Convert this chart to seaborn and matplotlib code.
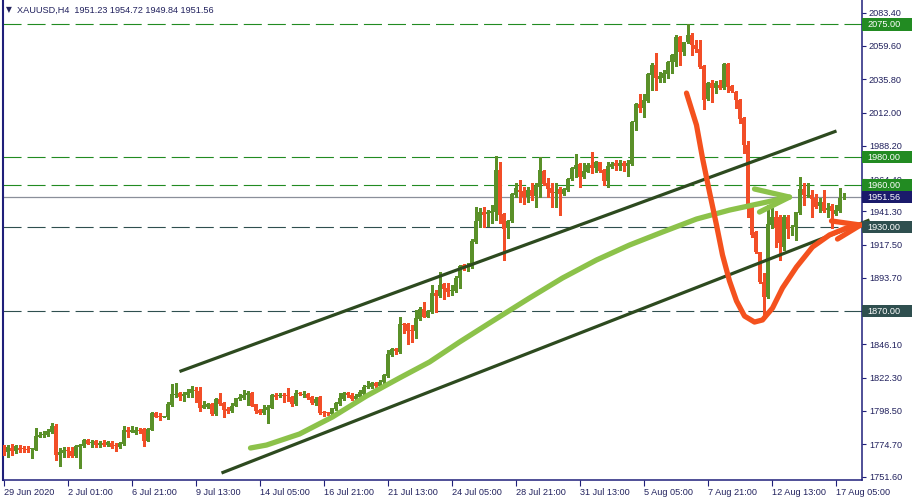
import numpy as np
import pandas as pd
import matplotlib
matplotlib.use("Agg")
import matplotlib.pyplot as plt
import matplotlib.transforms as mtrans
from matplotlib.patches import Rectangle
import seaborn as sns

# ---------------- data (XAUUSD H4) ----------------
opens = [
    1773.4, 1769.4, 1772.0, 1770.1, 1772.0, 1771.5, 1771.3, 1771.3, 1770.6, 1780.1,
    1781.1, 1781.3, 1783.5, 1787.8, 1767.0, 1768.7, 1770.6, 1770.1, 1766.3, 1773.0,
    1773.4, 1777.7, 1775.4, 1776.8, 1774.4, 1775.6, 1773.9, 1775.6, 1773.9, 1772.5,
    1774.9, 1784.9, 1783.7, 1782.5, 1784.9, 1785.4, 1777.3, 1785.1, 1797.3, 1794.9,
    1794.4, 1794.4, 1802.8, 1810.2, 1811.1, 1809.2, 1809.7, 1811.6, 1813.5, 1812.8,
    1800.9, 1801.6, 1803.5, 1796.3, 1806.8, 1804.0, 1800.1, 1798.7, 1802.3, 1807.3,
    1808.0, 1809.7, 1811.6, 1803.2, 1799.2, 1797.3, 1799.2, 1800.9, 1810.2, 1809.4,
    1810.2, 1809.7,
    1808.7, 1803.5, 1811.6, 1810.2, 1810.6, 1808.7, 1804.4, 1808.7, 1797.8, 1797.3,
    1796.3, 1799.9, 1803.5, 1807.1, 1811.6, 1810.2, 1807.1, 1808.7, 1810.6, 1815.4,
    1815.9, 1818.5, 1816.6, 1819.0, 1823.8, 1838.5, 1843.1, 1840.9, 1860.7, 1860.7,
    1856.4, 1855.9, 1864.3, 1871.2, 1866.0, 1869.1, 1883.1, 1881.0, 1889.1, 1886.7,
    1884.3, 1884.5, 1893.4, 1902.9, 1901.2,
    1901.7, 1919.6, 1934.4, 1941.1, 1939.4, 1939.9, 1941.1, 1970.9, 1939.4, 1929.1,
    1934.4, 1953.0, 1956.6, 1956.1, 1951.8, 1956.6, 1952.3, 1958.9, 1970.2, 1961.3,
    1958.2, 1954.2, 1957.3, 1953.5, 1956.6, 1964.2, 1971.6, 1975.2, 1966.1, 1969.7,
    1974.4, 1972.1, 1976.4, 1970.9, 1963.2, 1973.3, 1975.6, 1974.0, 1975.6, 1974.0,
    1975.2, 2005.0, 2018.1, 2015.5, 2020.5, 2038.8, 2046.0, 2036.0, 2036.4, 2039.3,
    2047.9, 2047.9, 2066.2, 2055.5, 2062.2, 2067.4, 2060.3, 2057.2, 2045.3, 2021.4,
    2032.9, 2029.8, 2031.7, 2029.3, 2046.7, 2031.2, 2026.9, 2020.9, 2007.8, 1988.8,
    1943.5, 1926.8, 1912.0, 1891.0, 1880.3, 1931.5, 1937.5, 1937.5, 1916.0, 1937.5,
    1929.2, 1929.9, 1939.9, 1957.3, 1952.3, 1953.0, 1951.1, 1945.1, 1947.8, 1942.3,
    1945.4, 1939.2, 1941.8, 1951.23,
]
highs = [
    1774.2, 1774.2, 1774.9, 1773.9, 1774.2, 1773.4, 1773.4, 1771.8, 1786.1, 1783.7,
    1784.4, 1785.6, 1790.1, 1789.2, 1771.8, 1772.5, 1772.5, 1772.5, 1774.2, 1774.9,
    1778.5, 1778.2, 1777.7, 1777.7, 1777.3, 1777.7, 1777.0, 1777.0, 1775.4, 1776.5,
    1788.0, 1787.3, 1788.0, 1787.3, 1786.1, 1786.1, 1786.1, 1798.0, 1798.0, 1796.8,
    1795.2, 1805.2, 1817.8, 1818.3, 1811.8, 1811.8, 1814.0, 1816.4, 1815.9, 1815.4,
    1805.4, 1804.4, 1804.0, 1807.5, 1811.1, 1805.2, 1801.6, 1804.0, 1808.0, 1810.6,
    1813.5, 1812.8, 1811.8, 1803.7, 1800.1, 1802.8, 1802.8, 1810.6, 1811.1, 1811.1,
    1811.1, 1814.7,
    1809.5, 1813.5, 1812.3, 1813.0, 1811.1, 1809.5, 1808.3, 1809.5, 1798.5, 1798.0,
    1800.9, 1805.2, 1811.1, 1812.3, 1812.3, 1811.1, 1810.4, 1813.5, 1817.1, 1820.2,
    1819.5, 1819.5, 1820.7, 1825.0, 1842.1, 1843.3, 1843.8, 1866.0, 1861.2, 1861.2,
    1860.0, 1870.7, 1872.6, 1876.7, 1870.7, 1888.6, 1885.0, 1898.1, 1890.3, 1889.8,
    1888.6, 1895.0, 1902.9, 1903.6, 1904.1,
    1921.3, 1944.6, 1943.5, 1944.6, 1942.3, 1945.8, 1980.9, 1976.8, 1939.9, 1935.1,
    1954.2, 1961.3, 1963.7, 1958.9, 1958.9, 1961.3, 1961.3, 1980.4, 1970.9, 1964.9,
    1961.3, 1961.3, 1958.9, 1957.8, 1964.9, 1973.3, 1982.3, 1975.6, 1975.6, 1975.6,
    1984.0, 1977.5, 1976.8, 1971.3, 1976.4, 1976.8, 1978.0, 1978.0, 1977.5, 1978.0,
    2005.9, 2019.0, 2025.2, 2025.2, 2040.0, 2047.2, 2054.3, 2041.2, 2042.4, 2048.8,
    2053.6, 2067.4, 2067.0, 2062.7, 2075.1, 2068.6, 2063.9, 2063.9, 2046.0, 2034.1,
    2035.2, 2034.8, 2035.2, 2047.6, 2047.2, 2031.7, 2027.4, 2021.7, 2009.0, 1991.6,
    1944.7, 1927.3, 1912.5, 1897.5, 1945.8, 1943.5, 1941.6, 1938.7, 1938.7, 1938.7,
    1931.5, 1941.1, 1965.6, 1961.3, 1961.3, 1956.6, 1953.5, 1950.6, 1956.6, 1947.0,
    1946.3, 1945.8, 1957.8, 1954.72,
]
lows = [
    1767.0, 1765.8, 1767.0, 1768.7, 1769.2, 1769.4, 1769.4, 1765.1, 1770.3, 1779.6,
    1780.1, 1780.6, 1783.0, 1763.4, 1759.1, 1765.8, 1765.8, 1765.8, 1765.8, 1758.0,
    1772.5, 1774.6, 1772.5, 1773.0, 1773.0, 1773.7, 1773.4, 1771.8, 1770.1, 1771.8,
    1774.4, 1779.6, 1783.2, 1782.0, 1783.0, 1773.4, 1776.8, 1784.9, 1794.0, 1792.0,
    1793.9, 1793.0, 1802.3, 1808.7, 1806.3, 1805.9, 1808.3, 1808.7, 1805.2, 1798.7,
    1800.4, 1800.4, 1795.6, 1795.6, 1802.8, 1794.4, 1797.3, 1798.0, 1802.1, 1806.3,
    1806.8, 1802.5, 1802.1, 1797.3, 1796.3, 1796.3, 1790.1, 1800.4, 1807.1, 1808.7,
    1805.2, 1805.9,
    1802.3, 1802.8, 1809.7, 1808.3, 1807.3, 1803.3, 1802.8, 1796.3, 1795.1, 1795.6,
    1795.9, 1799.2, 1802.8, 1806.4, 1808.7, 1806.4, 1806.4, 1808.0, 1809.9, 1814.7,
    1814.7, 1815.9, 1815.9, 1818.3, 1823.0, 1837.8, 1839.0, 1840.2, 1854.0, 1846.2,
    1847.6, 1850.5, 1863.6, 1865.5, 1865.5, 1868.8, 1869.5, 1880.3, 1878.4, 1880.7,
    1881.5, 1883.8, 1886.7, 1899.3, 1898.9,
    1900.5, 1918.9, 1930.3, 1929.9, 1930.8, 1932.7, 1935.1, 1932.7, 1906.5, 1922.0,
    1933.9, 1951.8, 1948.2, 1946.6, 1948.2, 1949.4, 1944.6, 1951.8, 1960.1, 1951.8,
    1944.6, 1944.6, 1938.7, 1953.0, 1956.1, 1963.7, 1966.1, 1958.9, 1964.9, 1969.2,
    1968.5, 1969.7, 1969.7, 1960.1, 1958.9, 1972.1, 1970.9, 1970.9, 1970.4, 1966.6,
    1974.5, 1999.5, 2012.6, 2009.0, 2019.8, 2028.1, 2028.1, 2034.1, 2034.1, 2036.4,
    2040.0, 2045.5, 2046.0, 2053.1, 2061.5, 2053.1, 2055.5, 2044.1, 2014.5, 2020.9,
    2019.3, 2025.7, 2028.8, 2028.6, 2026.9, 2026.9, 2015.0, 2004.3, 1982.8, 1937.5,
    1923.2, 1911.3, 1889.8, 1867.2, 1879.1, 1929.2, 1916.0, 1906.5, 1913.7, 1922.0,
    1924.4, 1920.8, 1939.4, 1945.8, 1951.8, 1937.5, 1943.9, 1941.1, 1941.1, 1937.5,
    1929.2, 1938.7, 1941.1, 1949.84,
]
closes = [
    1769.4, 1772.5, 1770.1, 1773.4, 1770.6, 1771.1, 1770.9, 1771.6, 1780.6, 1781.3,
    1782.0, 1784.4, 1788.0, 1767.0, 1769.2, 1770.6, 1770.1, 1766.5, 1773.4, 1774.2,
    1777.7, 1774.9, 1776.3, 1774.2, 1775.6, 1773.9, 1776.3, 1772.5, 1773.2, 1775.4,
    1784.9, 1783.7, 1784.9, 1784.9, 1784.4, 1777.0, 1785.6, 1797.0, 1794.4, 1794.4,
    1794.5, 1803.5, 1810.6, 1810.6, 1808.7, 1810.4, 1812.3, 1814.0, 1813.0, 1800.9,
    1802.5, 1803.5, 1796.1, 1806.8, 1803.5, 1799.2, 1798.7, 1802.3, 1807.8, 1808.7,
    1810.2, 1811.6, 1802.1, 1798.5, 1797.3, 1799.7, 1801.3, 1809.9, 1808.7, 1809.9,
    1809.2, 1809.2,
    1803.5, 1811.6, 1810.4, 1810.6, 1808.0, 1804.4, 1807.1, 1797.3, 1797.1, 1796.8,
    1800.4, 1804.0, 1807.5, 1811.6, 1809.7, 1807.1, 1809.5, 1811.8, 1815.9, 1816.6,
    1818.3, 1816.6, 1819.5, 1824.2, 1839.3, 1842.8, 1841.6, 1860.7, 1860.2, 1855.7,
    1855.9, 1864.8, 1871.2, 1866.0, 1870.0, 1882.6, 1881.0, 1888.6, 1885.7, 1883.8,
    1885.0, 1893.8, 1902.2, 1901.0, 1902.9,
    1920.3, 1934.4, 1941.1, 1938.7, 1940.6, 1941.5, 1970.9, 1938.7, 1928.9, 1934.6,
    1953.7, 1958.2, 1955.4, 1951.8, 1956.6, 1952.3, 1959.4, 1970.9, 1960.9, 1957.3,
    1954.2, 1955.4, 1953.5, 1957.0, 1964.2, 1972.1, 1974.4, 1966.1, 1970.2, 1974.4,
    1972.1, 1976.4, 1970.4, 1963.2, 1973.7, 1975.2, 1974.0, 1975.6, 1974.0, 1975.6,
    2005.4, 2018.1, 2015.5, 2020.9, 2039.5, 2046.0, 2036.4, 2038.1, 2040.0, 2048.4,
    2053.1, 2066.2, 2055.5, 2062.2, 2067.4, 2060.3, 2057.2, 2044.8, 2020.9, 2032.9,
    2029.8, 2032.9, 2029.3, 2046.7, 2030.5, 2027.4, 2020.9, 2007.4, 1988.8, 1943.5,
    1924.4, 1912.0, 1890.6, 1880.3, 1932.0, 1937.5, 1929.2, 1918.4, 1937.5, 1928.4,
    1930.4, 1940.6, 1957.3, 1953.0, 1953.0, 1949.9, 1944.7, 1948.2, 1941.8, 1943.9,
    1941.8, 1942.3, 1951.1, 1951.56,
]
assert len(opens) == len(highs) == len(lows) == len(closes) == 211

x_tick_labels = ["29 Jun 2020", "2 Jul 01:00", "6 Jul 21:00", "9 Jul 13:00",
                 "14 Jul 05:00", "16 Jul 21:00", "21 Jul 13:00", "24 Jul 05:00",
                 "28 Jul 21:00", "31 Jul 13:00", "5 Aug 05:00", "7 Aug 21:00",
                 "12 Aug 13:00", "17 Aug 05:00"]
y_tick_values = [2083.40, 2059.60, 2035.80, 2012.00, 1988.20, 1964.40, 1941.30,
                 1917.50, 1893.70, 1870.00, 1846.10, 1822.30, 1798.50, 1774.70, 1751.60]
levels_green = [2075.00, 1980.00, 1960.00]
levels_dark = [1930.00, 1870.00]
last_price = 1951.56
title = "XAUUSD,H4  1951.23 1954.72 1949.84 1951.56"

# hand-drawn annotations (bar index, price)
upper_channel_x = [44.0, 208.25]
upper_channel_y = [1826.7, 1998.8]
lower_channel_x = [54.5, 216.5]
lower_channel_y = [1754.1, 1935.1]
green_curve_x = [61.75, 65.75, 74.0, 82.25, 90.75, 99.0, 106.5, 114.0, 121.5, 131.5,
                 139.75, 148.25, 156.5, 164.75, 173.25, 181.5, 189.75, 196.5]
green_curve_y = [1772.0, 1774.1, 1782.0, 1794.2, 1809.2, 1822.1, 1833.5, 1847.8, 1861.4, 1879.3,
                 1893.6, 1906.5, 1917.2, 1926.5, 1935.8, 1942.2, 1947.3, 1951.5]
green_head_x = [187.75, 196.5, 189.0]
green_head_y = [1957.3, 1951.5, 1940.8]
red_curve_x = [170.75, 173.25, 174.75, 176.5, 178.25, 179.75, 181.5, 183.25, 185.25, 187.75,
               189.75, 192.25, 194.75, 198.25, 202.25, 206.5, 210.75, 214.25]
red_curve_y = [2025.9, 2003.0, 1979.4, 1955.1, 1931.5, 1910.1, 1891.5, 1877.2, 1866.4, 1862.1,
               1863.6, 1872.1, 1886.5, 1901.5, 1915.8, 1924.4, 1929.4, 1931.5]
red_head_x = [207.0, 214.25, 208.5]
red_head_y = [1934.4, 1931.5, 1921.5]

# ---------------- style ----------------
sns.set_theme(style="white")
plt.rcParams['font.family'] = ['Liberation Sans', 'DejaVu Sans']
plt.rcParams['lines.scale_dashes'] = False

NAVY = '#1f1f7a'
TXT = '#22225e'
GREEN_C = '#5A9029'
RED_C = '#F24E28'

df = pd.DataFrame({'bar': np.arange(len(opens)), 'open': opens, 'high': highs,
                   'low': lows, 'close': closes})
df['up'] = df['close'] >= df['open']
df['color'] = np.where(df['up'], GREEN_C, RED_C)
df['body_lo'] = df[['open', 'close']].min(axis=1)
df['body_h'] = (df['close'] - df['open']).abs().clip(lower=0.6)

fig = plt.figure(figsize=(9.15, 5.0), dpi=100)
fig.patch.set_facecolor('white')
ax = fig.add_axes([2.5 / 915, 20 / 500, 859.5 / 915, 480 / 500])
ax.set_facecolor('white')

# level lines
for lv in levels_green:
    ax.axhline(lv, color='#228B22', lw=0.8, dashes=(13, 4.3), zorder=1)
for lv in levels_dark:
    ax.axhline(lv, color='#2F4F4F', lw=0.8, dashes=(13, 4.3), zorder=1)
ax.axhline(last_price, color='#8a8f9a', lw=0.9, zorder=1)

# candles
ax.vlines(df['bar'], df['low'], df['high'], colors=df['color'], lw=0.75,
          zorder=3, antialiased=False)
ax.bar(df['bar'], df['body_h'], bottom=df['body_lo'], width=0.75,
       color=df['color'], linewidth=0, zorder=3.1, antialiased=False)

# annotations
ax.plot(upper_channel_x, upper_channel_y, color='#2D4A1F', lw=2.3,
        solid_capstyle='butt', zorder=5)
ax.plot(lower_channel_x, lower_channel_y, color='#2D4A1F', lw=2.3,
        solid_capstyle='butt', zorder=5, clip_on=False)
ax.plot(green_curve_x, green_curve_y, color='#8CC24A', lw=3.8,
        solid_capstyle='round', solid_joinstyle='round', zorder=6)
ax.plot(green_head_x, green_head_y, color='#8CC24A', lw=3.8,
        solid_capstyle='round', solid_joinstyle='round', zorder=6)
ax.plot(red_curve_x, red_curve_y, color='#F4511E', lw=3.8,
        solid_capstyle='round', solid_joinstyle='round', zorder=7, clip_on=False)
ax.plot(red_head_x, red_head_y, color='#F4511E', lw=3.8,
        solid_capstyle='round', solid_joinstyle='round', zorder=7, clip_on=False)

# axes limits / ticks
ax.set_xlim(-0.25, 214.625)
ax.set_ylim(1749.1, 2092.5)
ax.yaxis.tick_right()
ax.set_yticks(y_tick_values)
# the 1870.00 level is labelled by its coloured box
ax.set_yticklabels(["" if v in levels_dark else f"{v:.2f}" for v in y_tick_values])
ax.set_xticks(list(range(0, len(opens), 16))[:len(x_tick_labels)])
ax.set_xticklabels(x_tick_labels, ha='left')
ax.tick_params(axis='y', direction='out', length=3, width=0.8, color=NAVY,
               labelcolor=TXT, labelsize=6.6, pad=2, right=True, left=False)
ax.tick_params(axis='x', direction='out', length=4, width=0.8, color=NAVY,
               labelcolor=TXT, labelsize=6.6, pad=1.5, bottom=True)
ax.grid(False)
for side in ['left', 'bottom', 'right']:
    ax.spines[side].set_visible(True)
    ax.spines[side].set_color(NAVY)
ax.spines['left'].set_linewidth(1.5)
ax.spines['bottom'].set_linewidth(1.1)
ax.spines['right'].set_linewidth(1.1)
ax.spines['top'].set_visible(False)

# level label boxes on price axis
blend = mtrans.blended_transform_factory(ax.transAxes, ax.transData)
box_w = 50 / 859.5
box_h = 8.8
boxes = [(v, '#228B22') for v in levels_green] + [(last_price, '#1a1a6b')] + \
        [(v, '#2F4F4F') for v in levels_dark]
for v, c in boxes:
    ax.add_patch(Rectangle((1.0005, v - box_h / 2), box_w, box_h, transform=blend,
                           facecolor=c, edgecolor='none', clip_on=False, zorder=8))
    ax.text(1.0 + 5 / 859.5, v, f"{v:.2f}", transform=blend, color='white',
            fontsize=6.6, va='center', ha='left', zorder=9, clip_on=False)

# title
fig.text(6 / 915, 1 - 10 / 500, "\u25BC", fontsize=5.5, color=TXT, va='center',
         ha='left', family=['DejaVu Sans'])
fig.text(17 / 915, 1 - 10 / 500, title, fontsize=6.6, color=TXT, va='center', ha='left')

fig.savefig('out.png', dpi=100)
